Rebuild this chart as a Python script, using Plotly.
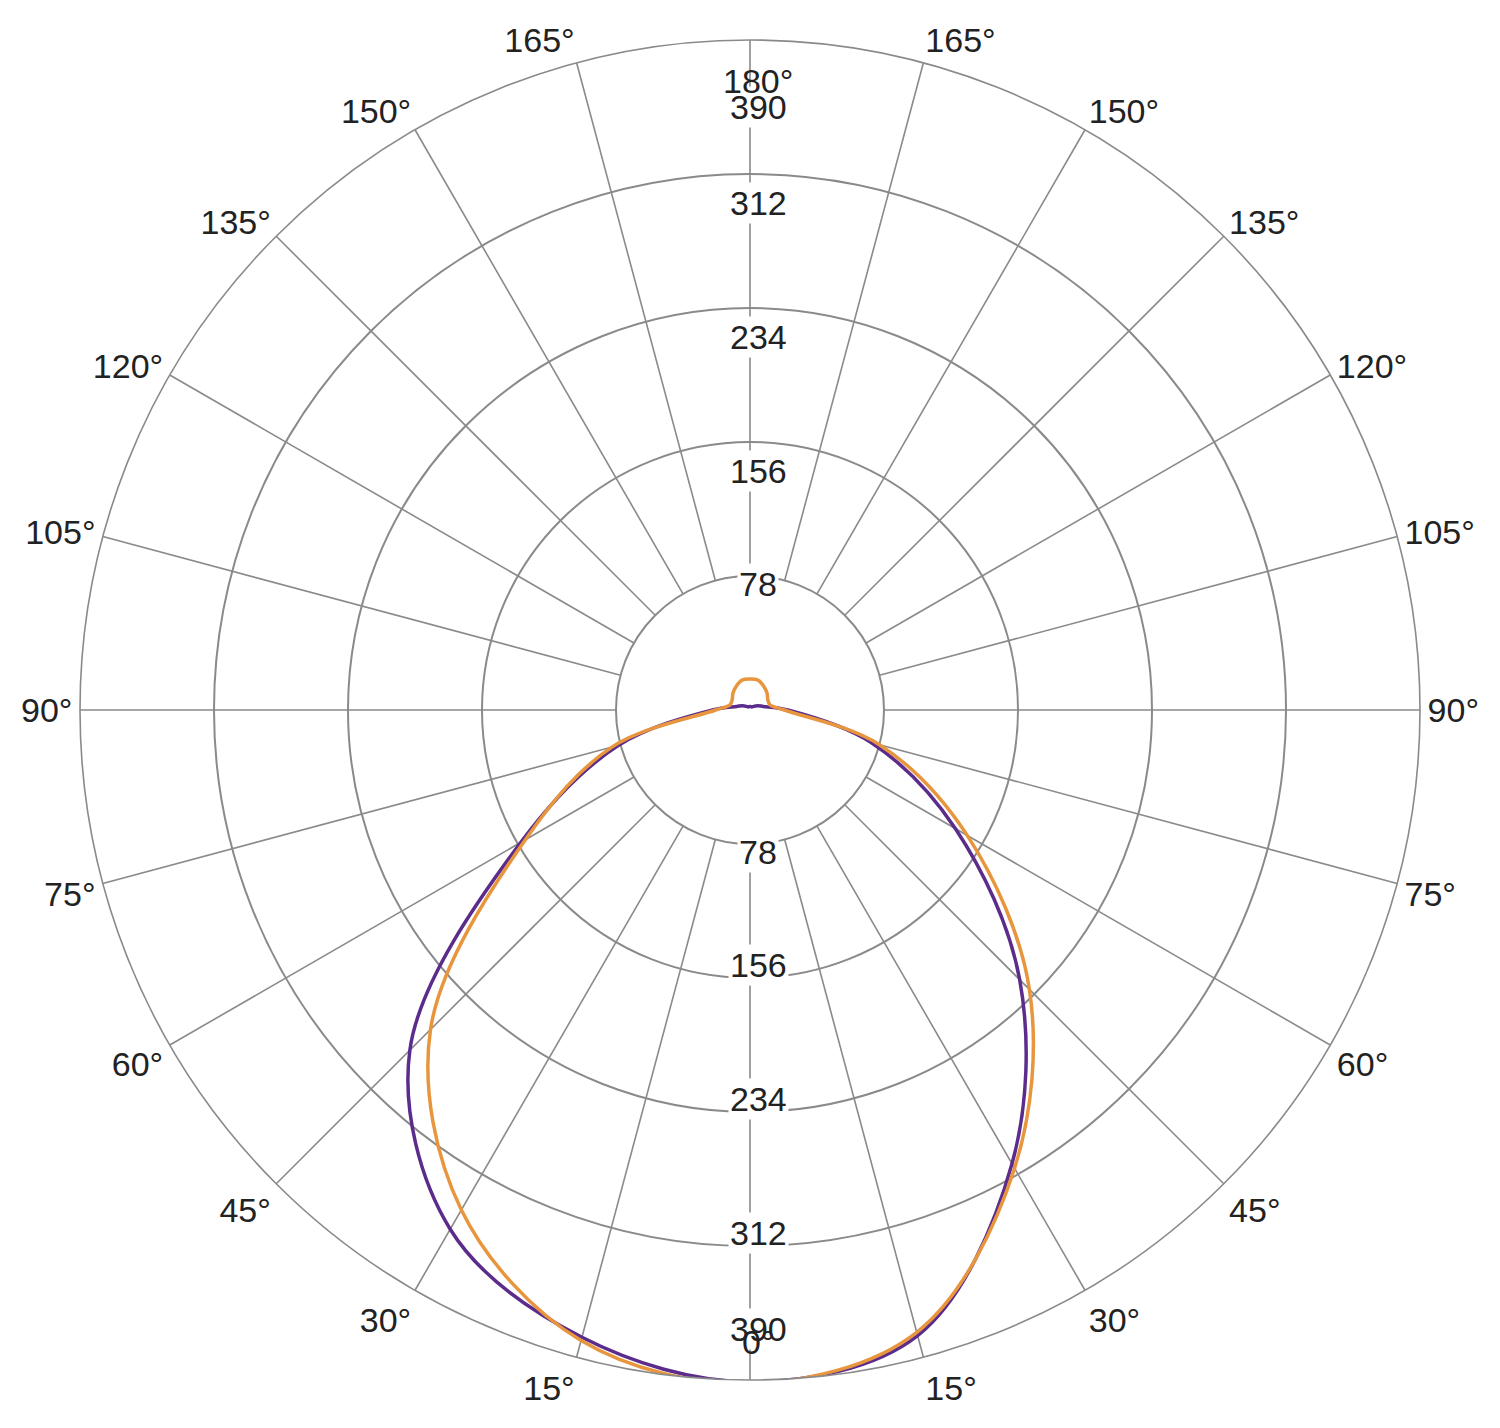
import plotly.graph_objects as go

# angles in degrees, 0 at bottom, counterclockwise (right side first)
theta = [0, 15, 30, 45, 60, 75, 90, 105, 120, 135, 150, 165, 180,
         195, 210, 225, 240, 255, 270, 285, 300, 315, 330, 345, 360]
purple = [391, 377, 305, 222, 138, 73, 22, 8, 5, 3, 2, 2, 2,
          2, 2, 3, 5, 8, 22, 79, 154, 280, 349, 378, 391]
orange = [392, 375, 308, 230, 146, 78, 20, 12, 12, 14, 16, 18, 18,
          18, 16, 14, 12, 12, 20, 83, 151, 263, 336, 380, 392]
rings = [78, 156, 234, 312, 390]
spokes = list(range(0, 360, 15))
spoke_labels = ["" if a in (0, 180) else f"{a if a <= 180 else 360 - a}°" for a in spokes]

grid = "#8a8a8a"
fig = go.Figure()
for a in spokes:
    fig.add_trace(go.Scatterpolar(r=[78, 390], theta=[a, a], mode="lines",
                                  line=dict(color=grid, width=1.6),
                                  hoverinfo="skip", showlegend=False))
fig.add_trace(go.Scatterpolar(r=purple, theta=theta, mode="lines",
                              line=dict(color="#5B2C8C", width=3.5, shape="spline"),
                              showlegend=False))
fig.add_trace(go.Scatterpolar(r=orange, theta=theta, mode="lines",
                              line=dict(color="#E8963E", width=3.5, shape="spline"),
                              showlegend=False))

cx, cy, R = 750 / 1500, 718 / 1428, 670
for v in rings:
    off = v / 390 * R / 1428
    for s in (1, -1):
        shift = 0
        if v == 390:
            shift = -38 if s == 1 else 38
        fig.add_annotation(x=cx, y=cy + s * off, xref="paper", yref="paper",
                           text=str(v), showarrow=False, bgcolor="white",
                           font=dict(size=34, color="#222"), yshift=shift)
# 0° and 180° sit inside the outer ring
fig.add_annotation(x=cx, y=cy + R / 1428, xref="paper", yref="paper", text="180°",
                   showarrow=False, font=dict(size=34, color="#222"), yshift=-12)
fig.add_annotation(x=cx, y=cy - R / 1428, xref="paper", yref="paper", text="0°",
                   showarrow=False, font=dict(size=34, color="#222"), yshift=25)

fig.update_layout(
    width=1500, height=1428, paper_bgcolor="white",
    margin=dict(l=0, r=0, t=0, b=0),
    font=dict(family="Liberation Sans, Arial, sans-serif", size=34, color="#222"),
    polar=dict(
        domain=dict(x=[72 / 1500, 1412 / 1500], y=[56 / 1428, 1396 / 1428]),
        bgcolor="white",
        radialaxis=dict(range=[0, 390], tickvals=rings, showticklabels=False,
                        gridcolor=grid, gridwidth=1.6, showline=False, ticks=""),
        angularaxis=dict(rotation=-90, direction="counterclockwise",
                         tickvals=spokes, ticktext=spoke_labels,
                         showgrid=False, linecolor=grid, linewidth=1.6, ticks=""),
    ),
)
fig.write_html("out.html")
